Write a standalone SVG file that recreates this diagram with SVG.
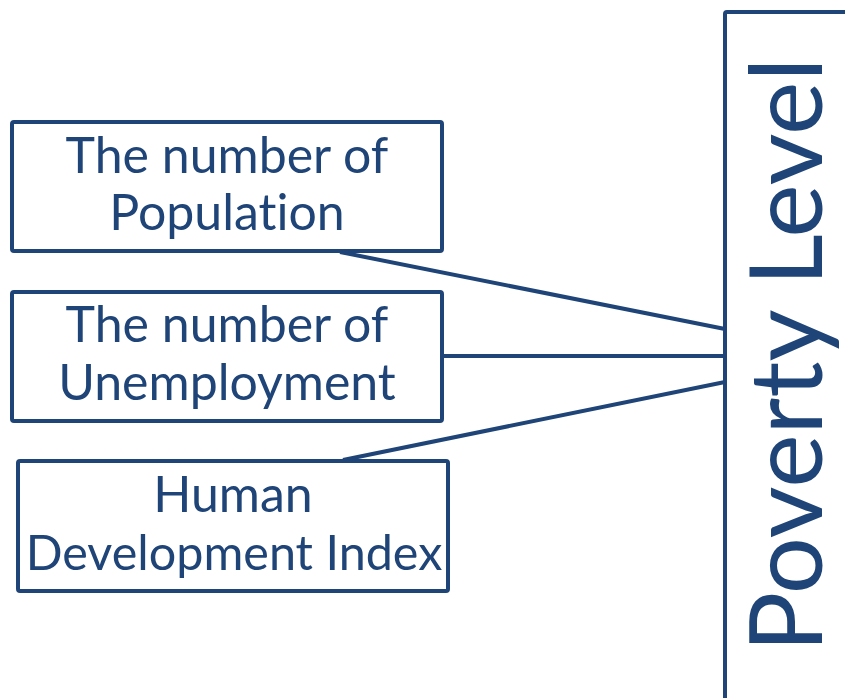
<svg xmlns="http://www.w3.org/2000/svg" width="845" height="698" viewBox="0 0 845 698">
<style>
.box{fill:#fff;stroke:#1F4477;stroke-width:4;}
.lbl{font-family:Lato,"Open Sans",sans-serif;font-size:50px;fill:#1F4477;text-anchor:middle;font-variant-ligatures:none;font-feature-settings:"liga" 0;}
.conn{stroke:#1F4477;stroke-width:4;fill:none;}
</style>
<rect width="845" height="698" fill="#fff"/>
<g id="connectors">
<line class="conn" x1="340" y1="252" x2="725" y2="329"/>
<line class="conn" x1="443" y1="356" x2="725" y2="356"/>
<line class="conn" x1="343" y1="460" x2="725" y2="382"/>
</g>
<g id="node-population">
<rect class="box" x="12" y="122" width="430" height="129" rx="2"/>
<text class="lbl" x="227" y="173">The number of</text>
<text class="lbl" x="227" y="230">Population</text>
</g>
<g id="node-unemployment">
<rect class="box" x="12" y="292" width="430" height="129" rx="2"/>
<text class="lbl" x="227" y="342">The number of</text>
<text class="lbl" x="227" y="400">Unemployment</text>
</g>
<g id="node-hdi">
<rect class="box" x="18" y="461" width="430" height="130" rx="2"/>
<text class="lbl" x="233" y="512">Human</text>
<text class="lbl" x="234" y="570" style="font-size:48.5px">Development Index</text>
</g>
<g id="node-poverty">
<rect class="box" x="725" y="12" width="200" height="800" rx="2"/>
<text class="lbl" style="font-size:101px" transform="translate(822,355) rotate(-90)" x="0" y="0">Poverty Level</text>
</g>
</svg>
